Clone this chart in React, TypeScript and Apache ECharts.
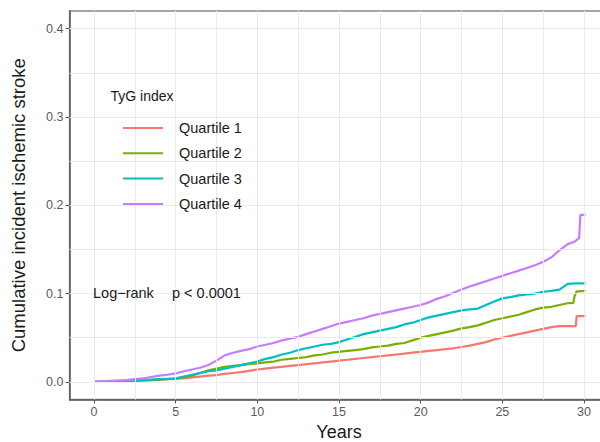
import React, { useEffect, useRef } from "react";
import * as echarts from "echarts";

const FONT = "'Liberation Sans', Arial, sans-serif";

// follow-up times (years) shared by all curves, up to year 29
const times = [
  0, 0.5, 1, 1.5, 2, 2.5, 3, 3.5, 4, 4.5, 5, 5.5, 6, 6.5, 7, 7.5, 8, 8.5, 9, 9.5,
  10, 10.5, 11, 11.5, 12, 12.5, 13, 13.5, 14, 14.5, 15, 15.5, 16, 16.5, 17, 17.5, 18, 18.5, 19, 19.5,
  20, 20.5, 21, 21.5, 22, 22.5, 23, 23.5, 24, 24.5, 25, 25.5, 26, 26.5, 27, 27.5, 28, 28.5, 29,
];

const seriesNames = ["Quartile 1", "Quartile 2", "Quartile 3", "Quartile 4"];
const seriesColors = ["#F8766D", "#7CAE00", "#00BFC4", "#C77CFF"];

const q1 = [
  0, 0.0002, 0.0005, 0.0008, 0.001, 0.0013, 0.0017, 0.002, 0.0025, 0.003,
  0.0035, 0.004, 0.005, 0.006, 0.007, 0.0076, 0.009, 0.010, 0.011, 0.0125,
  0.014, 0.015, 0.016, 0.017, 0.018, 0.019, 0.020, 0.021, 0.022, 0.023,
  0.024, 0.025, 0.026, 0.027, 0.028, 0.029, 0.030, 0.031, 0.032, 0.033,
  0.034, 0.035, 0.036, 0.037, 0.038, 0.0395, 0.041, 0.043, 0.045, 0.048,
  0.050, 0.052, 0.054, 0.056, 0.058, 0.060, 0.062, 0.063, 0.063,
];
const q1Tail = [[29.5, 0.063], [29.55, 0.0745], [30.1, 0.0745]];

const q2 = [
  0, 0.0002, 0.0005, 0.0008, 0.001, 0.0013, 0.0017, 0.002, 0.0025, 0.003,
  0.0035, 0.005, 0.007, 0.010, 0.013, 0.015, 0.017, 0.018, 0.019, 0.020,
  0.021, 0.022, 0.023, 0.025, 0.026, 0.027, 0.028, 0.030, 0.031, 0.033,
  0.034, 0.035, 0.036, 0.037, 0.039, 0.040, 0.041, 0.043, 0.044, 0.047,
  0.050, 0.052, 0.054, 0.056, 0.058, 0.0605, 0.062, 0.064, 0.067, 0.070,
  0.072, 0.074, 0.076, 0.079, 0.082, 0.084, 0.085, 0.087, 0.089,
];
const q2Tail = [[29.35, 0.0895], [29.42, 0.097], [29.55, 0.1025], [30.1, 0.103]];

const q3 = [
  0, 0.0003, 0.0006, 0.001, 0.0013, 0.0017, 0.002, 0.0025, 0.003, 0.0035,
  0.004, 0.006, 0.008, 0.010, 0.012, 0.013, 0.015, 0.017, 0.019, 0.021,
  0.023, 0.026, 0.028, 0.031, 0.033, 0.036, 0.038, 0.040, 0.042, 0.043,
  0.045, 0.048, 0.051, 0.054, 0.056, 0.058, 0.060, 0.062, 0.065, 0.067,
  0.070, 0.073, 0.075, 0.077, 0.079, 0.081, 0.082, 0.083, 0.087, 0.091,
  0.0945, 0.096, 0.098, 0.099, 0.100, 0.102, 0.103, 0.1045, 0.111,
];
const q3Tail = [[29.5, 0.1115], [30.1, 0.1115]];

const q4 = [
  0, 0.0005, 0.001, 0.0015, 0.002, 0.003, 0.004, 0.0055, 0.007, 0.008,
  0.0095, 0.012, 0.014, 0.016, 0.019, 0.024, 0.030, 0.033, 0.035, 0.037,
  0.040, 0.042, 0.044, 0.047, 0.049, 0.051, 0.054, 0.057, 0.060, 0.063,
  0.066, 0.068, 0.070, 0.072, 0.075, 0.077, 0.079, 0.081, 0.083, 0.085,
  0.087, 0.090, 0.094, 0.097, 0.101, 0.1045, 0.108, 0.111, 0.114, 0.117,
  0.120, 0.123, 0.126, 0.129, 0.132, 0.136, 0.141, 0.149, 0.156,
];
const q4Tail = [[29.45, 0.159], [29.7, 0.163], [29.78, 0.189], [30.1, 0.189]];

const seriesValues = [q1, q2, q3, q4];
const seriesTails = [q1Tail, q2Tail, q3Tail, q4Tail];

const xTicks = [0, 5, 10, 15, 20, 25, 30];
const yTicks = [0, 0.1, 0.2, 0.3, 0.4];
const xGrid = [0, 2.5, 5, 7.5, 10, 12.5, 15, 17.5, 20, 22.5, 25, 27.5, 30];
const yGrid = [0, 0.05, 0.1, 0.15, 0.2, 0.25, 0.3, 0.35, 0.4];

const xRange = [-1.5, 31.5];
const yRange = [-0.02, 0.42];

export default function App() {
  const ref = useRef<HTMLDivElement>(null);

  useEffect(() => {
    if (!ref.current) return;
    const chart = echarts.init(ref.current, undefined, { renderer: "svg" });

    const gridLineStyle = { color: "#ebebeb", width: 1, type: "solid" as const };

    const option: any = {
      animation: false,
      backgroundColor: "#ffffff",
      textStyle: { fontFamily: FONT },
      grid: {
        left: 69.5,
        top: 11,
        width: 539,
        height: 388.5,
        containLabel: false,
        outerBoundsMode: "none",
        show: true,
        borderColor: "#8a8a8a",
        borderWidth: 1.3,
        backgroundColor: "transparent",
      },
      xAxis: {
        type: "value",
        min: xRange[0],
        max: xRange[1],
        name: "Years",
        nameLocation: "middle",
        nameGap: 21,
        nameTextStyle: { fontSize: 18, color: "#1a1a1a", fontFamily: FONT },
        axisLine: { show: true, onZero: false, lineStyle: { color: "#555555", width: 1.5 } },
        axisTick: { show: true, length: 4, customValues: xTicks, lineStyle: { color: "#555555", width: 1 } },
        axisLabel: {
          customValues: xTicks,
          margin: 6,
          fontSize: 12.5,
          color: "#5a5a5a",
          fontFamily: FONT,
        },
        splitLine: { show: false },
      },
      yAxis: {
        type: "value",
        min: yRange[0],
        max: yRange[1],
        name: "Cumulative incident ischemic stroke",
        nameLocation: "middle",
        nameGap: 42,
        nameRotate: 90,
        nameTextStyle: { fontSize: 18.5, color: "#1a1a1a", fontFamily: FONT },
        axisLine: { show: true, onZero: false, lineStyle: { color: "#555555", width: 1.5 } },
        axisTick: { show: true, length: 4, customValues: yTicks, lineStyle: { color: "#555555", width: 1 } },
        axisLabel: {
          customValues: yTicks,
          margin: 6,
          fontSize: 12.5,
          color: "#5a5a5a",
          fontFamily: FONT,
          formatter: (v: number) => v.toFixed(1),
        },
        splitLine: { show: false },
      },
      legend: {
        data: seriesNames,
        orient: "vertical",
        left: 118,
        top: 115,
        z: 10,
        itemWidth: 40,
        itemHeight: 2,
        itemGap: 9.3,
        icon: "rect",
        selectedMode: false,
        textStyle: {
          fontSize: 14.5,
          lineHeight: 16,
          color: "#1a1a1a",
          fontFamily: FONT,
          padding: [0, 0, 0, 11],
        },
      },
      graphic: [
        {
          type: "rect",
          z: 2,
          shape: { x: 95, y: 75, width: 167, height: 141 },
          style: { fill: "#ffffff" },
          silent: true,
        },
        {
          type: "text",
          z: 10,
          left: 110.5,
          top: 89,
          style: { text: "TyG index", fontSize: 14, fill: "#1a1a1a", fontFamily: FONT },
        },
        {
          type: "text",
          z: 10,
          left: 93,
          top: 285.5,
          style: { text: "Log\u2212rank", fontSize: 14.5, fill: "#1a1a1a", fontFamily: FONT },
        },
        {
          type: "text",
          z: 10,
          left: 172,
          top: 285.5,
          style: { text: "p < 0.0001", fontSize: 14.5, fill: "#1a1a1a", fontFamily: FONT },
        },
      ],
      series: [
        {
          name: "__grid",
          type: "line",
          z: 1,
          data: [[0, 0]],
          showSymbol: false,
          symbol: "none",
          lineStyle: { opacity: 0 },
          silent: true,
          markLine: {
            silent: true,
            symbol: ["none", "none"],
            label: { show: false },
            lineStyle: gridLineStyle,
            emphasis: { disabled: true },
            data: [
              ...xGrid.map((v) => ({ xAxis: v })),
              ...yGrid.map((v) => ({ yAxis: v })),
            ],
          },
        },
        ...seriesNames.map((name, i) => ({
          name,
          type: "line",
          z: 3,
          showSymbol: false,
          symbol: "none",
          color: seriesColors[i],
          lineStyle: { color: seriesColors[i], width: 2.2 },
          itemStyle: { color: seriesColors[i] },
          data: [
            ...times.map((t, j) => [t, seriesValues[i][j]]),
            ...seriesTails[i],
          ],
        })),
      ],
    };

    chart.setOption(option);
    return () => chart.dispose();
  }, []);

  return (
    <div
      ref={ref}
      style={{ position: "fixed", left: 0, top: 0, width: 600, height: 442, background: "#fff" }}
    />
  );
}
